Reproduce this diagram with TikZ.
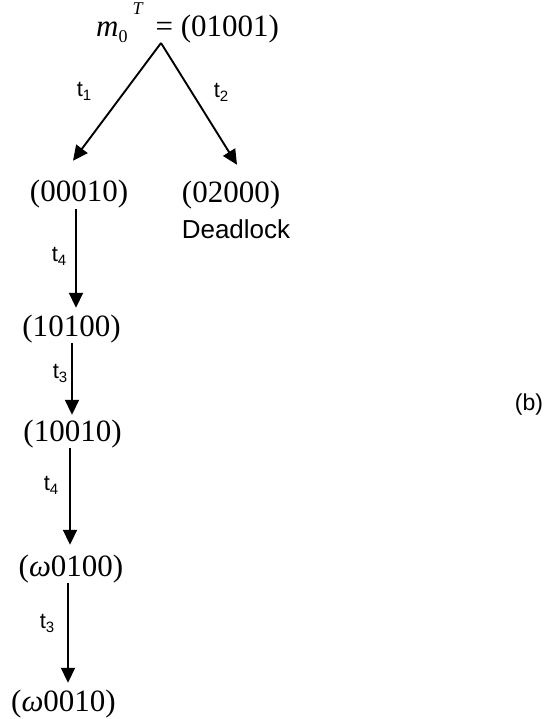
\documentclass[tikz,border=0pt]{standalone}
\usepackage{fontspec}
\setmainfont{Liberation Serif}
\newfontfamily\arialf{Liberation Sans}
\usetikzlibrary{arrows.meta}
\newcommand\tsub[1]{t\raisebox{-4pt}{\fontsize{15}{15}\selectfont #1}}
\begin{document}
\begin{tikzpicture}[x=1pt,y=-1pt,
  mk/.style={inner sep=0pt, font=\fontsize{31}{36}\selectfont},
  lbl/.style={inner sep=0pt, font=\arialf\fontsize{22}{26}\selectfont},
  arr/.style={line width=1.9pt, -{Triangle[length=15pt,width=14pt]}}]
\useasboundingbox (0,0) rectangle (546,719);
\fill[white] (0,0) rectangle (546,719);

% markings
\node[mk, anchor=base west] (m0) at (96,37) {\itshape m\upshape\raisebox{-6pt}{\fontsize{18}{18}\selectfont 0}\hspace{5pt}\raisebox{22pt}{\fontsize{18}{18}\selectfont\itshape T}\hspace{13pt}=\ (01001)};
\coordinate (apex) at (161,43);
\node[mk, anchor=base] (n00010) at (79,202) {(00010)};
\node[mk, anchor=base] (n02000) at (231,203) {(02000)};
\node[lbl, anchor=base, font=\arialf\fontsize{26}{30}\selectfont] (dead) at (236,238) {Deadlock};
\node[mk, anchor=base] (n10100) at (71.5,336) {(10100)};
\node[mk, anchor=base] (n10010) at (72.5,441) {(10010)};
\node[mk, anchor=base] (nw0100) at (71,576) {(\textit{ω}0100)};
\node[mk, anchor=base] (nw0010) at (63.5,711) {(\textit{ω}0010)};

% connectors
\draw[arr] (apex) -- ([xshift=-6pt,yshift=19.5pt]n00010.north);
\draw[arr] (apex) -- ([xshift=6pt,yshift=16.5pt]n02000.north);
\draw[arr] ([xshift=-3pt]n00010.south) -- ([xshift=4.5pt,yshift=6.5pt]n10100.north);
\draw[arr] ([xshift=0.5pt]n10100.south) -- ([xshift=-0.5pt,yshift=4.5pt]n10010.north);
\draw[arr] ([xshift=-2.5pt]n10010.south) -- ([xshift=-1pt,yshift=9.5pt]nw0100.north);
\draw[arr] ([xshift=-3pt]nw0100.south) -- ([xshift=4.5pt,yshift=6.5pt]nw0010.north);

% labels
\node[lbl] (l1) at (84,91) {\tsub{1}};
\node[lbl] (l2) at (221,92) {\tsub{2}};
\node[lbl] (l3) at (59,256) {\tsub{4}};
\node[lbl] (l4) at (60,373) {\tsub{3}};
\node[lbl] (l5) at (51,485) {\tsub{4}};
\node[lbl] (l6) at (47,623) {\tsub{3}};
\node[lbl, font=\arialf\fontsize{23}{27}\selectfont] (b) at (529,405) {(b)};
\end{tikzpicture}
\end{document}
